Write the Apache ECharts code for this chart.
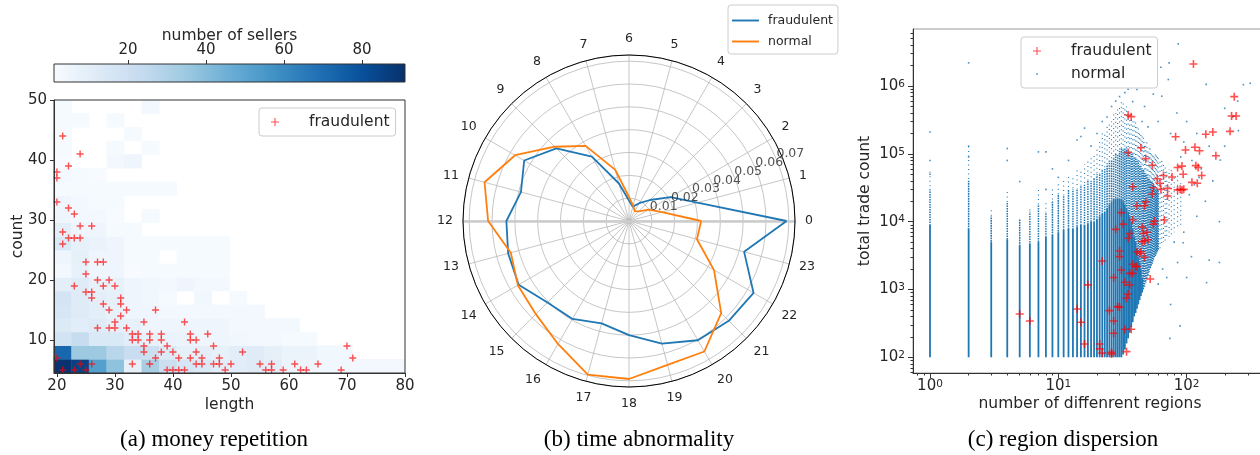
<!DOCTYPE html>
<html><head><meta charset="utf-8">
<script src="https://cdn.jsdelivr.net/npm/echarts@6/dist/echarts.min.js"></script>
<style>html,body{margin:0;padding:0;background:#fff}#c{width:1260px;height:455px}</style>
</head><body><div id="c"></div><script>
const FONT = 'DejaVu Sans';
const TXT = '#262626';
const BLUE = '#1f77b4', ORANGE = '#ff7f0e', RED = 'rgba(255,0,0,0.85)';
const BLUES = ['#f7fbff','#deebf7','#c6dbef','#9ecae1','#6baed6','#4292c6','#2171b5','#08519c','#08306b'];

// ---------- (a) money repetition ----------
const lengthTicks = [20,30,40,50,60,70,80];
const countTicks = [10,20,30,40,50];
const colorTicks = [20,40,60,80];
// rows from bottom (count bins 4.5..50, 20 bins), columns = length bins 19.5..80 (20 bins)
const heatRows = [
 [90,85,52,38,9,32,21,16,14,11,11,12,11,6,5,4,4,3,3,3],
 [72,35,35,27,22,20,13,9,10,8,11,12,9,6,6,4,4,0,0,0],
 [18,23,14,14,11,8,7,6,5,5,4,3,3,2,2,0,0,0,0,0],
 [13,11,12,9,8,5,5,5,5,5,3,3,3,3,0,0,0,0,0,0],
 [16,12,10,8,5,5,3,3,3,3,3,3,0,0,0,0,0,0,0,0],
 [17,12,10,9,5,4,2,0,4,0,2,0,0,0,0,0,0,0,0,0],
 [10,12,8,8,5,4,3,5,3,3,0,0,0,0,0,0,0,0,0,0],
 [3,8,5,5,1,2,2,2,2,2,0,0,0,0,0,0,0,0,0,0],
 [5,9,5,5,2,2,0,2,2,2,0,0,0,0,0,0,0,0,0,0],
 [14,8,7,5,2,2,2,2,2,2,0,0,0,0,0,0,0,0,0,0],
 [10,5,5,2,2,0,0,0,0,0,0,0,0,0,0,0,0,0,0,0],
 [5,3,3,1,0,2,0,0,0,0,0,0,0,0,0,0,0,0,0,0],
 [5,3,2,2,0,0,0,0,0,0,0,0,0,0,0,0,0,0,0,0],
 [2,2,2,2,2,2,2,0,0,0,0,0,0,0,0,0,0,0,0,0],
 [3,2,1,0,0,0,0,0,0,0,0,0,0,0,0,0,0,0,0,0],
 [1,0,0,3,5,0,0,0,0,0,0,0,0,0,0,0,0,0,0,0],
 [2,0,0,2,0,2,0,0,0,0,0,0,0,0,0,0,0,0,0,0],
 [2,0,0,0,2,0,0,0,0,0,0,0,0,0,0,0,0,0,0,0],
 [2,2,0,2,0,0,0,0,0,0,0,0,0,0,0,0,0,0,0,0],
 [2,0,0,0,0,3,0,0,0,0,0,0,0,0,0,0,0,0,0,0]
];
const fraudA = [[21,44],[24,41],[22,39],[20,38],[20,37],[20,33],[22,32],[23,31],[24,29],[26,29],[21,28],[22,27],[23,27],[24,27],[21,26],[25,23],[27,23],[28,23],[25,21],[23,19],[27,20],[29,20],[28,19],[30,19],[25,18],[26,18],[26,17],[31,17],[28,16],[31,16],[29,15],[32,15],[37,15],[31,14],[30,13],[35,13],[42,13],[27,12],[29,12],[30,12],[32,12],[33,11],[34,11],[36,11],[38,11],[43,11],[46,11],[33,10],[34,10],[36,10],[38,10],[43,10],[44,10],[35,9],[39,9],[47,9],[70,9],[35,8],[38,8],[40,8],[44,8],[52,8],[20,7],[37,7],[41,7],[43,7],[45,7],[48,7],[71,7],[24,6],[26,6],[33,6],[36,6],[44,6],[45,6],[47,6],[48,6],[50,6],[55,6],[57,6],[61,6],[65,6],[21,5],[23,5],[25,5],[39,5],[40,5],[41,5],[42,5],[49,5],[56,5],[57,5],[59,5],[62,5],[63,5],[69,5]];

// ---------- (b) time abnormality ----------
const hourLabels = ['0','1','2','3','4','5','6','7','8','9','10','11','12','13','14','15','16','17','18','19','20','21','22','23'];
const fraudHours = [0.069,0.031,0.021,0.013,0.009,0.0065,0.009,0.017,0.0325,0.045,0.053,0.049,0.0537,0.0548,0.0558,0.0505,0.0495,0.0464,0.050,0.0556,0.0603,0.0618,0.063,0.0522];
const normalHours = [0.0316,0.015,0.010,0.006,0.005,0.007,0.0105,0.0232,0.038,0.046,0.0576,0.0655,0.0617,0.0536,0.0562,0.0577,0.0622,0.0697,0.0692,0.0652,0.066,0.0571,0.043,0.0308];
const radialTicks = [0.01,0.02,0.03,0.04,0.05,0.06,0.07];
const radialLabelHour = 1.5; // radial tick labels sit on the 22.5 degree ray

// ---------- (c) region dispersion ----------
const regionTicks = [1,10,100];
const tradeTicks = [100,1e3,1e4,1e5,1e6];
// [regions, lowest trade count, top of dense run, top of medium run, top of sparse run]
const normalStripes = [
 [1,100,9000,3e4,6e4],[2,100,8000,4e4,1.3e5],[3,100,5000,1.2e4,1.5e4],[4,100,5500,2e4,2.8e4],
 [5,100,4500,1.1e4,1.2e4],[6,100,4800,1.4e4,1.7e4],[7,100,5000,1.8e4,3e4],[8,100,6000,1.4e4,2e4],
 [9,100,6500,2e4,3e4],[10,100,7000,2.5e4,4e4],[11,100,7500,2.5e4,4e4],[12,100,8000,3e4,5e4],
 [13,100,8000,3e4,4.5e4],[14,100,8500,3e4,6e4],[15,100,9000,3.5e4,6e4],[16,100,9000,3.5e4,7e4],
 [17,100,9500,4e4,8e4],[18,100,1e4,4e4,9e4],[19,100,1e4,4.5e4,1e5],[20,100,1.1e4,5e4,1.2e5],
 [21,100,1.2e4,5e4,1.5e5],[22,100,1.3e4,6e4,2e5],[23,100,1.4e4,6e4,2e5],[24,100,1.6e4,7e4,2.5e5],
 [25,100,1.8e4,8e4,3e5],[26,100,2e4,8e4,3e5],[27,100,2.2e4,9e4,4e5],[28,100,2.2e4,1e5,4e5],
 [29,100,2.2e4,1e5,5e5],[30,100,2.2e4,1.1e5,5e5],[31,100,2.2e4,1.2e5,6e5],[32,110,2e4,1.2e5,6e5],
 [33,130,1.8e4,1.2e5,5e5],[34,160,1.6e4,1.2e5,5e5],[35,190,1.4e4,1.1e5,4e5],[36,230,1.2e4,1.1e5,4e5],
 [37,280,1e4,1e5,3.5e5],[38,330,8000,1e5,3e5],[39,400,6000,9e4,3e5],[40,450,5000,9e4,3e5],
 [41,520,4000,8e4,2.5e5],[42,600,3000,8e4,2.5e5],[43,700,2500,7e4,2e5],[44,800,2000,7e4,2e5],
 [45,900,1500,6e4,2e5],[46,1000,1000,6e4,1.8e5],[47,1100,1100,5.5e4,1.5e5],[48,1250,1250,5e4,1.5e5],
 [49,1400,1400,5e4,1.5e5],[50,1600,1600,4.5e4,1.2e5],[51,1800,1800,4.5e4,1.2e5],[52,2000,2000,4e4,1.2e5],
 [53,2200,2200,4e4,1e5],[54,2400,2400,4e4,1e5],[55,2600,2600,3.5e4,1e5],[56,2900,2900,3.5e4,1e5],
 [57,3100,3100,3e4,1e5],[58,3300,3300,3e4,1e5],[59,3500,3500,3e4,9e4],[60,3800,3800,3e4,9e4],
 [62,4000,4000,4000,8e4],[64,4500,4500,4500,8e4],[66,5000,5000,5000,7e4],[68,5000,5000,5000,7e4],
 [70,5500,5500,5500,6e4],[73,6000,6000,6000,6e4],[76,6500,6500,6500,6e4],[80,7000,7000,7000,5e4],
 [85,8000,8000,8000,5e4],[90,9000,9000,9000,4e4]
];
const normalOutliers = [[1,5e4],[1,8e4],[1,2.1e5],[2,1.3e5],[2,9e4],[2,2.2e6],[4,8e4],[4,1.2e5],[5,3.9e4],[7,1.07e5],[8,1.07e5],[8,3e4],[9,6e4],[10,4.5e4],[12,8e4],[14,1.6e5],[15,1.8e5],[16,2.4e5],[18,1.3e5],[20,2e5],[22,3e5],[24,3.5e5],[26,5e5],[28,6e5],[30,7e5],[33,8e5],[35,9e5],[38,5.9e5],[41,8.9e5],[47,5e5],[55,7.6e5],[64,7.1e5],[63,1.9e6],[72,1.25e6],[73,2.2e6],[86,4.2e6],[84,4e5],[100,3e5],[120,2e5],[142,1.06e6],[198,4.7e5],[253,2.2e5],[277,1.05e6],[313,1.1e6],[198,1.3e5],[183,8.1e4],[150,1.3e5],[130,6e4],[160,4e4],[140,2e4],[120,1.2e4],[180,1e4],[110,8e4],[95,1.5e5],[90,9e4],[105,2.5e4],[115,3.5e4],[150,2.7e3],[180,2.5e3],[143,1.26e3],[100,1.5e3],[109,3.05e3],[94,4.9e3],[89,290],[74,190],[80,5e3],[70,1.5e3],[65,2e3],[60,1.2e3],[85,2.5e3],[75,600],[95,7e3],[125,4.5e4],[230,3.5e5],[250,6e5],[45,3e5],[50,2.5e5],[60,3e5],[75,2e5]];
const fraudC = [[113,2.12e6],[235,6.98e5],[224,3.62e5],[243,3.62e5],[35,3.75e5],[37,3.54e5],[82,1.79e5],[141,1.95e5],[160,2.1e5],[218,2.15e5],[44,1.23e5],[35,1.05e5],[98,1.14e5],[116,1.25e5],[126,1.11e5],[169,9.4e4],[48,8.5e4],[54,6.8e4],[85,6.3e4],[92,6.6e4],[118,6.7e4],[123,6.3e4],[94,5e4],[131,4.8e4],[77,4.56e4],[66,4.8e4],[59,4.3e4],[62,3.68e4],[110,3.8e4],[121,3.68e4],[55,3.17e4],[63,3e4],[71,3.1e4],[85,2.94e4],[89,3e4],[92,2.94e4],[95,3e4],[54,2.56e4],[71,2.39e4],[38,3.28e4],[48,1.97e4],[41,1.72e4],[47,1.72e4],[67,1.06e4],[56,1.02e4],[55,9.2e3],[31,1.36e4],[32,9.2e3],[38,1.06e4],[28,7.7e3],[36,6.7e3],[45,8.3e3],[46,6.7e3],[49,7e3],[50,5.4e3],[45,5.07e3],[47,5.2e3],[35,5.7e3],[41,3.6e3],[43,3.4e3],[44,3.6e3],[47,2.99e3],[30,3.7e3],[30,3.05e3],[40,2.2e3],[38,2.35e3],[41,2.17e3],[31,1.94e3],[36,1.73e3],[38,1.73e3],[52,1.43e3],[27,1.5e3],[22,2.63e3],[33,1.28e3],[36,1.17e3],[35,859],[34,742],[29,558],[30,549],[25,488],[14,516],[17,1.17e3],[15,328],[27,343],[27,226],[33,259],[37,259],[16,157],[21,157],[21,133],[22,115],[26,112],[26,118],[34,121],[5,435],[6,343]];

// ---------- build ----------
const heatData = [];
heatRows.forEach((row, r) => row.forEach((v, c) => { if (v > 0) heatData.push([c, r, v]); }));
const closeLoop = arr => arr.map((v, i) => [v, i]).concat([[arr[0], 24]]);
const minorLog = (lo, hi) => { const out = []; for (let e = -1; e <= 7; e++) for (let m = 2; m <= 9; m++) { const v = m * Math.pow(10, e); if (v >= lo && v <= hi) out.push(v); } return out; };

const PLUS = 'path://M4,0 H6 V4 H10 V6 H6 V10 H4 V6 H0 V4 H4 Z';
const PLUS_ICON = 'path://M0,0 M20,20 M9.3,5 H10.7 V9.3 H15 V10.7 H10.7 V15 H9.3 V10.7 H5 V9.3 H9.3 Z';
const DOT_ICON = 'path://M0,0 M20,20 M9.2,9.2 H10.8 V10.8 H9.2 Z';
const LINE_ICON = 'path://M0,0 H30 V2.1 H0 Z';

const dark = '#333';
const tStyle = (size) => ({ color: TXT, fontFamily: FONT, fontSize: size });
const supFmt = v => '{b|10}{s|' + Math.round(Math.log10(v)) + '}';
const supRich = { b: { fontSize: 15, fontFamily: FONT, color: TXT }, s: { fontSize: 10.5, fontFamily: FONT, color: TXT, verticalAlign: 'top' } };
const capStyle = { fontFamily: 'Liberation Serif', fontSize: 23, fontWeight: 'normal', color: '#000' };

const X_MIN_C = 0.737, X_MAX_C = 423, Y_MIN_C = 58.6, Y_MAX_C = 6.95e6;
const gridC = { left: 913, top: 29, width: 354, height: 344 };

const option = {
  animation: false,
  backgroundColor: '#fff',
  textStyle: { fontFamily: FONT },
  title: [
    { text: '(a) money repetition', left: 209, top: 423, textAlign: 'center', textStyle: capStyle },
    { text: '(b) time abnormality', left: 634, top: 423, textAlign: 'center', textStyle: capStyle },
    { text: '(c) region dispersion', left: 1058, top: 423, textAlign: 'center', textStyle: capStyle }
  ],
  grid: [
    { left: 54, top: 100, width: 351, height: 273, show: true, borderColor: dark, borderWidth: 1, backgroundColor: 'rgba(0,0,0,0)', z: 10, outerBoundsMode: 'none' },
    { left: 54, top: 100, width: 351, height: 273, show: false, outerBoundsMode: 'none' },
    { left: 54, top: 64, width: 351, height: 18, show: true, borderColor: dark, borderWidth: 1, outerBoundsMode: 'none',
      backgroundColor: { type: 'linear', x: 0, y: 0, x2: 1, y2: 0, colorStops: BLUES.map((c, i) => ({ offset: i / (BLUES.length - 1), color: c })) } },
    { ...gridC, show: true, borderColor: '#999', borderWidth: 1, backgroundColor: 'rgba(0,0,0,0)', outerBoundsMode: 'none' },
    { ...gridC, show: false, outerBoundsMode: 'none' }
  ],
  xAxis: [
    { gridIndex: 0, type: 'value', min: 19.5, max: 80, z: 10, position: 'bottom',
      name: 'length', nameLocation: 'middle', nameGap: 24, nameTextStyle: tStyle(15.5), nameMoveOverlap: false,
      axisLine: { show: true, onZero: false, lineStyle: { color: dark } },
      axisTick: { show: true, length: 4, lineStyle: { color: dark }, customValues: lengthTicks },
      axisLabel: { customValues: lengthTicks, margin: 6, ...tStyle(15) }, splitLine: { show: false } },
    { gridIndex: 1, type: 'category', data: heatRows[0].map((_, i) => i), show: false },
    { gridIndex: 2, type: 'value', min: 1, max: 91, position: 'top', z: 10,
      name: 'number of sellers', nameLocation: 'middle', nameGap: 20, nameTextStyle: tStyle(15.5), nameMoveOverlap: false,
      axisLine: { show: false, onZero: false },
      axisTick: { show: true, length: 4, lineStyle: { color: dark }, customValues: colorTicks },
      axisLabel: { customValues: colorTicks, margin: 6, ...tStyle(15) }, splitLine: { show: false } },
    { gridIndex: 3, type: 'log', logBase: 10, min: X_MIN_C, max: X_MAX_C, z: 10, position: 'bottom',
      name: 'number of diffenrent regions', nameLocation: 'middle', nameGap: 23, nameTextStyle: tStyle(15.5), nameMoveOverlap: false,
      axisLine: { show: true, onZero: false, lineStyle: { color: dark } },
      axisTick: { show: true, length: 5, lineStyle: { color: dark }, customValues: regionTicks },
      axisLabel: { customValues: regionTicks, margin: 6, formatter: supFmt, rich: supRich }, splitLine: { show: false } },
    { gridIndex: 4, type: 'log', logBase: 10, min: X_MIN_C, max: X_MAX_C, z: 10, position: 'bottom',
      axisLine: { show: false, onZero: false },
      axisTick: { show: true, length: 2.5, lineStyle: { color: dark, width: 1 }, customValues: minorLog(X_MIN_C, X_MAX_C) },
      axisLabel: { show: false }, splitLine: { show: false } }
  ],
  yAxis: [
    { gridIndex: 0, type: 'value', min: 4.5, max: 50, z: 10, position: 'left',
      name: 'count', nameLocation: 'middle', nameGap: 28, nameRotate: 90, nameTextStyle: tStyle(15.5), nameMoveOverlap: false,
      axisLine: { show: true, onZero: false, lineStyle: { color: dark } },
      axisTick: { show: true, length: 4, lineStyle: { color: dark }, customValues: countTicks },
      axisLabel: { customValues: countTicks, margin: 7, ...tStyle(15) }, splitLine: { show: false } },
    { gridIndex: 1, type: 'category', data: heatRows.map((_, i) => i), show: false },
    { gridIndex: 2, type: 'value', min: 0, max: 1, show: false },
    { gridIndex: 3, type: 'log', logBase: 10, min: Y_MIN_C, max: Y_MAX_C, z: 10, position: 'left',
      name: 'total trade count', nameLocation: 'middle', nameGap: 40, nameRotate: 90, nameTextStyle: tStyle(15.5), nameMoveOverlap: false,
      axisLine: { show: true, onZero: false, lineStyle: { color: dark } },
      axisTick: { show: true, length: 5, lineStyle: { color: dark }, customValues: tradeTicks },
      axisLabel: { customValues: tradeTicks, margin: 8, formatter: supFmt, rich: supRich }, splitLine: { show: false } },
    { gridIndex: 4, type: 'log', logBase: 10, min: Y_MIN_C, max: Y_MAX_C, z: 10, position: 'left',
      axisLine: { show: false, onZero: false },
      axisTick: { show: true, length: 2.5, lineStyle: { color: dark, width: 1 }, customValues: minorLog(Y_MIN_C, Y_MAX_C) },
      axisLabel: { show: false }, splitLine: { show: false } }
  ],
  polar: [
    { center: [629, 221], radius: 166 },
    { center: [629, 221], radius: 200 },
    { center: [629, 221], radius: 166 }
  ],
  angleAxis: [
    { polarIndex: 0, type: 'value', min: 0, max: 24, interval: 1, startAngle: 0, clockwise: false,
      axisLine: { show: true, lineStyle: { color: '#000', width: 1 } },
      axisTick: { show: false },
      axisLabel: { margin: 10, formatter: v => (v >= 24 ? '' : hourLabels[v]), ...tStyle(12.5) },
      splitLine: { show: true, lineStyle: { color: '#b8b8b8', width: 0.8 } } },
    { polarIndex: 1, type: 'value', min: 0, max: 24, startAngle: 0, clockwise: false, show: false },
    { polarIndex: 2, type: 'value', min: 0, max: 24, startAngle: 180, clockwise: false, show: false }
  ],
  radiusAxis: [
    { polarIndex: 0, type: 'value', min: 0, max: 0.0727, interval: 0.01,
      axisLine: { show: true, lineStyle: { color: '#cccccc', width: 2.5 } },
      axisTick: { show: false }, axisLabel: { show: false },
      splitLine: { show: true, lineStyle: { color: '#b8b8b8', width: 0.8 } } },
    { polarIndex: 1, type: 'value', min: -0.00647, max: 0.0811, show: false },
    { polarIndex: 2, type: 'value', min: 0, max: 0.0727,
      axisLine: { show: true, lineStyle: { color: '#cccccc', width: 2.5 } },
      axisTick: { show: false }, axisLabel: { show: false }, splitLine: { show: false } }
  ],
  visualMap: [{ show: false, type: 'continuous', min: 1, max: 91, seriesIndex: 0, inRange: { color: BLUES } }],
  legend: [
    { selectedMode: false, orient: 'vertical', left: 259, top: 108, padding: [6, 6, 6, 8], itemWidth: 28, itemHeight: 16, itemGap: 8,
      borderColor: '#cccccc', borderWidth: 1, borderRadius: 3, backgroundColor: 'rgba(255,255,255,0.8)',
      textStyle: { ...tStyle(15.5), padding: [0, 0, 0, 15] }, formatter: () => 'fraudulent',
      data: [{ name: 'a_fraud', icon: PLUS_ICON, itemStyle: { color: RED } }] },
    { selectedMode: false, orient: 'vertical', left: 728, top: 5, padding: [9, 5, 6, 4], itemWidth: 27, itemHeight: 12, itemGap: 8,
      borderColor: '#cccccc', borderWidth: 1, borderRadius: 3, backgroundColor: 'rgba(255,255,255,0.8)',
      textStyle: { ...tStyle(12.5), padding: [0, 0, 0, 4] }, formatter: n => (n === 'b_fraud' ? 'fraudulent' : 'normal'),
      data: [{ name: 'b_fraud', icon: LINE_ICON, itemStyle: { color: BLUE } }, { name: 'b_normal', icon: LINE_ICON, itemStyle: { color: ORANGE } }] },
    { selectedMode: false, orient: 'vertical', left: 1021, top: 37, padding: [6, 6, 6, 8], itemWidth: 28, itemHeight: 16, itemGap: 7,
      borderColor: '#cccccc', borderWidth: 1, borderRadius: 3, backgroundColor: 'rgba(255,255,255,0.8)',
      textStyle: { ...tStyle(15.5), padding: [0, 0, 0, 15] }, formatter: n => (n === 'c_fraud' ? 'fraudulent' : 'normal'),
      data: [{ name: 'c_fraud', icon: PLUS_ICON, itemStyle: { color: RED } }, { name: 'c_normal', icon: DOT_ICON, itemStyle: { color: BLUE } }] }
  ],
  series: [
    { type: 'heatmap', xAxisIndex: 1, yAxisIndex: 1, data: heatData, itemStyle: { borderWidth: 0 }, emphasis: { disabled: true } },
    { name: 'a_fraud', type: 'scatter', xAxisIndex: 0, yAxisIndex: 0, data: fraudA, symbol: PLUS, symbolSize: 7, itemStyle: { color: RED }, z: 5 },
    { name: 'b_fraud', type: 'line', coordinateSystem: 'polar', polarIndex: 0, data: closeLoop(fraudHours), symbol: 'none', lineStyle: { color: BLUE, width: 1.8 }, itemStyle: { color: BLUE }, z: 5 },
    { name: 'b_normal', type: 'line', coordinateSystem: 'polar', polarIndex: 0, data: closeLoop(normalHours), symbol: 'none', lineStyle: { color: ORANGE, width: 1.8 }, itemStyle: { color: ORANGE }, z: 5 },
    { name: 'c_normal', type: 'custom', xAxisIndex: 3, yAxisIndex: 3, data: normalStripes, clip: true, itemStyle: { color: BLUE },
      encode: { x: 0, y: 1 },
      renderItem: function (params, api) {
        const x = api.value(0), lo = api.value(1), d = api.value(2), m = api.value(3), s = api.value(4);
        const kids = [];
        const seg = (a, b, w, dash, off) => {
          if (!(b > a)) return;
          const p1 = api.coord([x, a]), p2 = api.coord([x, b]);
          kids.push({ type: 'line', shape: { x1: p1[0], y1: p1[1], x2: p2[0], y2: p2[1] },
            style: { stroke: BLUE, lineWidth: w, lineDash: dash, lineDashOffset: off || 0 } });
        };
        seg(lo, d, 1.8, null);
        seg(Math.max(lo, d), m, 1.5, [1.6, 0.9], (x * 0.7) % 2.5);
        seg(Math.max(lo, d, m), s, 1.1, [1, 3.5], (x * 1.3) % 4.5);
        return { type: 'group', children: kids };
      } },
    { name: 'c_normal', type: 'scatter', xAxisIndex: 3, yAxisIndex: 3, data: normalOutliers, symbol: 'rect', symbolSize: 1.6, itemStyle: { color: BLUE }, z: 3 },
    { name: 'c_fraud', type: 'scatter', xAxisIndex: 3, yAxisIndex: 3, data: fraudC, symbol: PLUS, symbolSize: 8, itemStyle: { color: RED }, z: 5 },
    { type: 'line', xAxisIndex: 2, yAxisIndex: 2, data: [], silent: true },
    { type: 'line', xAxisIndex: 4, yAxisIndex: 4, data: [], silent: true },
    { type: 'scatter', coordinateSystem: 'polar', polarIndex: 1, silent: true, z: 6,
      data: radialTicks.map(v => [v, radialLabelHour]), symbol: 'circle', symbolSize: 1, itemStyle: { color: 'rgba(0,0,0,0)' },
      label: { show: true, position: 'inside', formatter: p => radialTicks[p.dataIndex].toFixed(2), ...tStyle(12.5) } },
    { type: 'line', coordinateSystem: 'polar', polarIndex: 2, data: [], silent: true }
  ]
};
const chart = echarts.init(document.getElementById('c'), null, { renderer: 'canvas' });
chart.setOption(option);
</script></body></html>
